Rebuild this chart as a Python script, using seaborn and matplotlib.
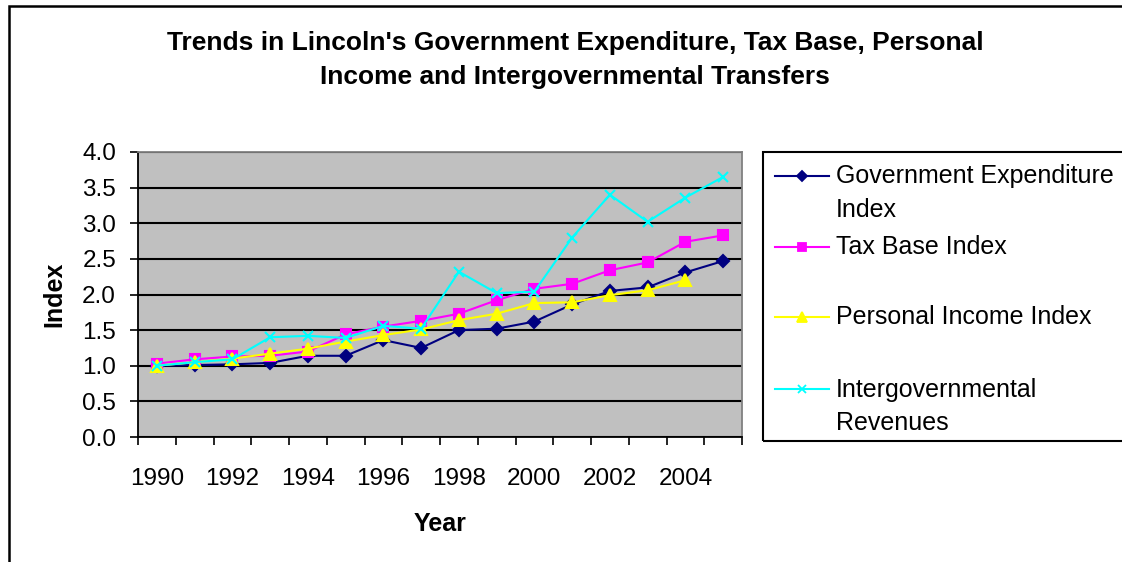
import numpy as np
import pandas as pd
import matplotlib
matplotlib.use("Agg")
import matplotlib.pyplot as plt
from matplotlib.lines import Line2D
from matplotlib.patches import Rectangle
from matplotlib.ticker import FixedLocator, FormatStrFormatter
import seaborn as sns

# data
years = list(range(1990, 2006))
gov_exp = [1.00, 1.01, 1.02, 1.04, 1.14, 1.14, 1.36, 1.25, 1.50, 1.52, 1.62, 1.86, 2.05, 2.10, 2.31, 2.47]
tax_base = [1.03, 1.09, 1.13, 1.14, 1.20, 1.44, 1.55, 1.63, 1.73, 1.92, 2.08, 2.15, 2.34, 2.45, 2.74, 2.83]
pers_income = [1.00, 1.05, 1.10, 1.17, 1.24, 1.34, 1.43, 1.51, 1.64, 1.73, 1.88, 1.89, 1.99, 2.06, 2.20, np.nan]
intergov = [1.00, 1.05, 1.09, 1.40, 1.42, 1.39, 1.56, 1.52, 2.32, 2.02, 2.04, 2.80, 3.40, 3.02, 3.36, 3.65]

series_names = ["Government Expenditure Index", "Tax Base Index",
                "Personal Income Index", "Intergovernmental Revenues"]
legend_labels = [["Government Expenditure", "Index"], ["Tax Base Index"],
                 ["Personal Income Index"], ["Intergovernmental", "Revenues"]]
colors = ["#000080", "#FF00FF", "#FFFF00", "#00FFFF"]
markers = ["D", "s", "^", "x"]
msizes = [6.5, 7.2, 9, 7.5]

title = "Trends in Lincoln's Government Expenditure, Tax Base, Personal\nIncome and Intergovernmental Transfers"

df = pd.DataFrame({"Year": years, series_names[0]: gov_exp, series_names[1]: tax_base,
                   series_names[2]: pers_income, series_names[3]: intergov})
df = df.melt(id_vars="Year", var_name="Series", value_name="Index").dropna()
df["pos"] = df["Year"] - years[0]

plt.rcParams["font.family"] = ["Liberation Sans", "DejaVu Sans"]

W, H = 1122, 562
fig = plt.figure(figsize=(W / 100, H / 100), dpi=100)
fig.patch.set_facecolor("white")

def fx(px):
    return px / W

def fy(py):
    return 1 - py / H

L, R, T, B = 138, 742, 152, 437
ax = fig.add_axes([fx(L), fy(B), fx(R) - fx(L), fy(T) - fy(B)])
ax.set_facecolor("#C0C0C0")

for i, name in enumerate(series_names):
    sub = df[df["Series"] == name]
    sns.lineplot(x=sub["pos"], y=sub["Index"], ax=ax, color=colors[i], marker=markers[i],
                 markersize=msizes[i], markeredgecolor=colors[i], markeredgewidth=1.5,
                 linewidth=1.5, zorder=3 + i, legend=False)

ax.set_xlim(-0.5, len(years) - 0.5)
ax.set_ylim(0, 4)
ax.yaxis.set_major_locator(FixedLocator(np.arange(0, 4.01, 0.5)))
ax.yaxis.set_major_formatter(FormatStrFormatter("%.1f"))
ax.grid(axis="y", color="black", linewidth=1.5)
ax.set_axisbelow(True)

# category axis: ticks between categories, labels every other year
ax.xaxis.set_major_locator(FixedLocator(np.arange(-0.5, len(years), 1.0)))
ax.set_xticklabels([], minor=False)
ax.set_xticks(np.arange(0, len(years), 2), minor=True)
ax.set_xticklabels([str(y) for y in years[::2]], minor=True)
ax.tick_params(axis="x", which="major", length=5.8, width=1.2, direction="out")
ax.tick_params(axis="x", which="minor", length=0, labelsize=17.5, pad=22)
ax.tick_params(axis="y", which="major", length=5.8, width=1.2, labelsize=17.5, pad=10)

for s in ["left", "bottom"]:
    ax.spines[s].set_color("black")
    ax.spines[s].set_linewidth(1.3)
for s in ["top", "right"]:
    ax.spines[s].set_color("#808080")
    ax.spines[s].set_linewidth(1.3)

ax.set_xlabel("Year", fontsize=18, fontweight="bold")
ax.set_ylabel("Index", fontsize=18, fontweight="bold")
ax.xaxis.set_label_coords((440 - L) / (R - L), (B - 512) / (B - T))
ax.yaxis.set_label_coords((66 - L) / (R - L), 0.5)

fig.text(fx(575), fy(60), title, ha="center", va="center", fontsize=19,
         fontweight="bold", linespacing=1.5)

# outer chart frame
fig.patches.append(Rectangle((fx(9), -0.1), 1.2, fy(6) + 0.1, transform=fig.transFigure,
                             fill=False, edgecolor="black", linewidth=1.8))

# legend box, handle sits on the first text line of each entry
fig.patches.append(Rectangle((fx(763), fy(441)), 1.0, fy(152) - fy(441), transform=fig.transFigure,
                             fill=False, edgecolor="black", linewidth=1.5))
entry_y = [176, 247, 317, 389]
for i, lines in enumerate(legend_labels):
    yy = fy(entry_y[i])
    fig.lines.append(Line2D([fx(775), fx(829)], [yy, yy], transform=fig.transFigure,
                            color=colors[i], linewidth=1.5))
    fig.lines.append(Line2D([fx(802)], [yy], transform=fig.transFigure, color=colors[i],
                            marker=markers[i], markersize=msizes[i] * 0.8,
                            markeredgecolor=colors[i], markeredgewidth=1.3))
    for k, txt in enumerate(lines):
        fig.text(fx(836), fy(entry_y[i] + 7.5 + 33.5 * k), txt, ha="left", va="baseline",
                 fontsize=18)

fig.savefig("out.png", dpi=100)
